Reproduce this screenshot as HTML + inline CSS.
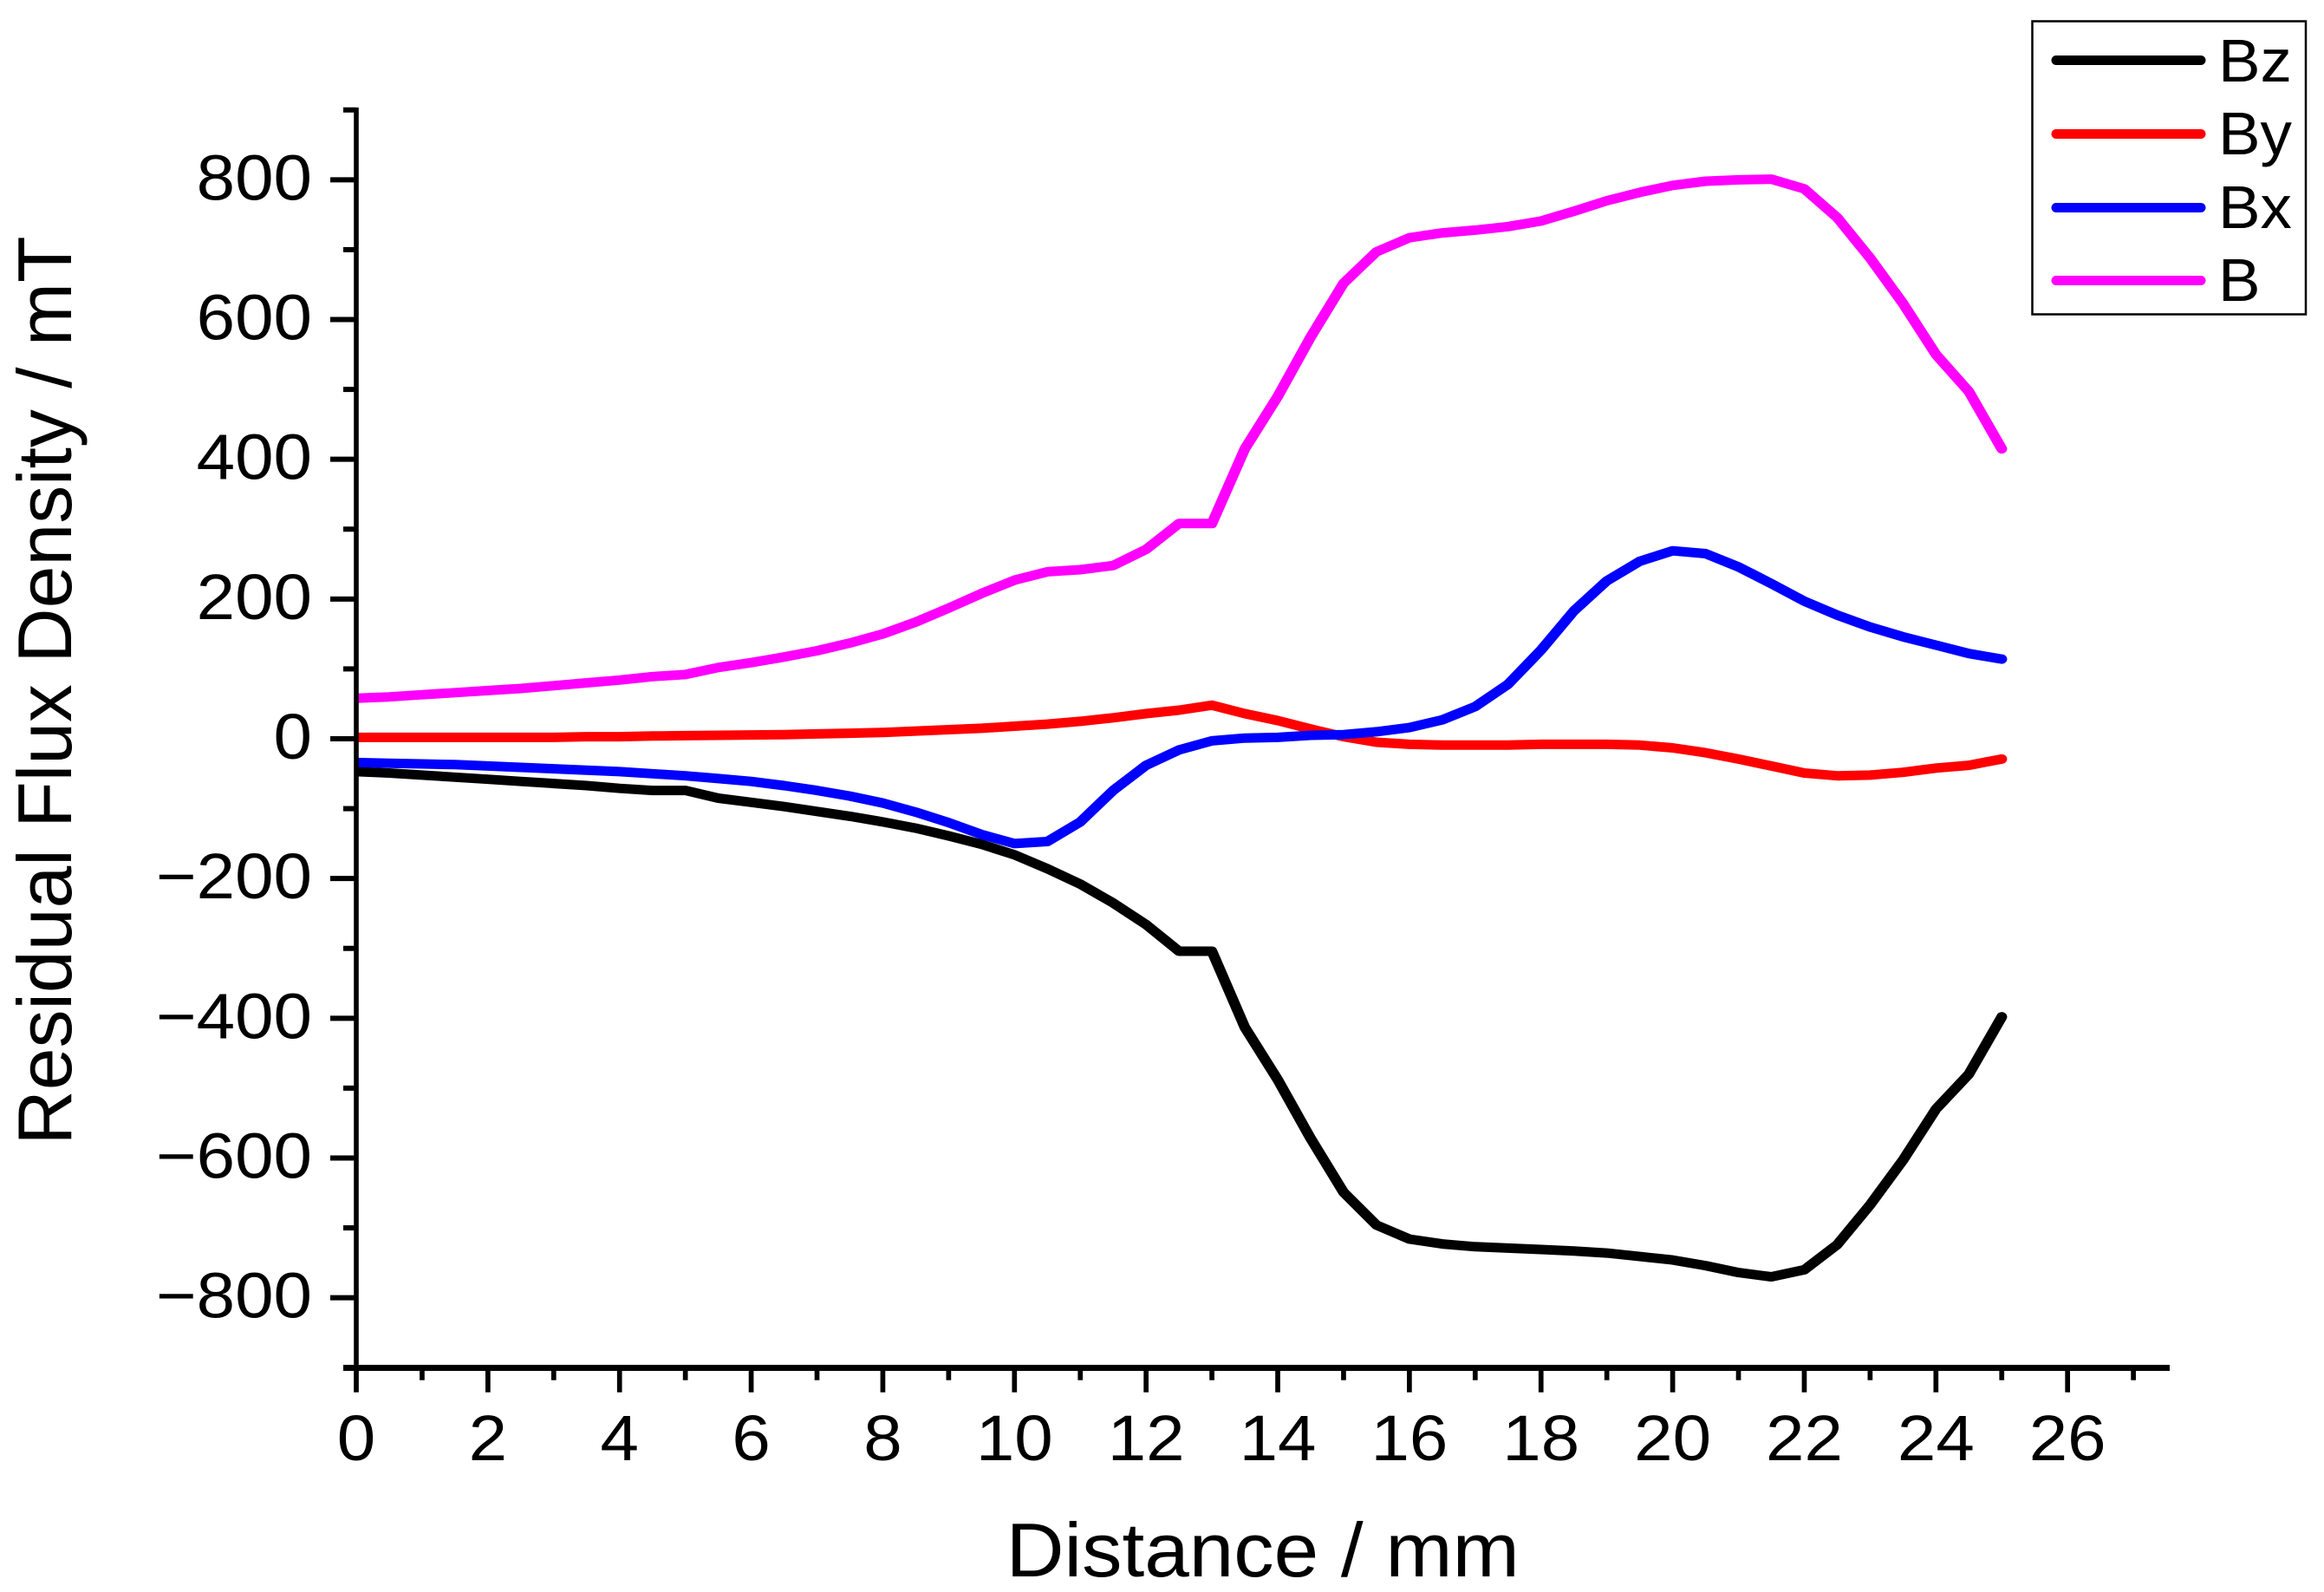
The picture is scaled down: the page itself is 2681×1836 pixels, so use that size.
<!DOCTYPE html>
<html lang="en">
<head>
<meta charset="utf-8">
<title>Residual Flux Density vs Distance</title>
<style>
html,body{margin:0;padding:0;background:#fff;}
svg{display:block;}
text{font-family:"Liberation Sans",Arial,sans-serif;fill:#000;}
</style>
</head>
<body>
<svg id="chart" xmlns="http://www.w3.org/2000/svg" width="2681" height="1836" viewBox="0 0 2681 1836">
<rect x="0" y="0" width="2681" height="1836" fill="#fff"/>
<defs><clipPath id="plot-clip"><rect x="411" y="100" width="2100" height="1480"/></clipPath></defs>
<g id="series" clip-path="url(#plot-clip)"></g>
<g id="axes"></g>
<text transform="translate(1456.7,1818) scale(1.053,1)" font-size="88" text-anchor="middle">Distance / mm</text>
<text transform="translate(82,796.5) rotate(-90) scale(0.997,1)" font-size="88" text-anchor="middle">Residual Flux Density / mT</text>
<g>
<rect x="2344.5" y="24.5" width="315.5" height="338" fill="#fff" stroke="#000" stroke-width="2.5"/>
<line x1="2372" y1="69.5" x2="2539" y2="69.5" stroke="#000" stroke-width="11" stroke-linecap="round"/>
<line x1="2372" y1="154.5" x2="2539" y2="154.5" stroke="#f00" stroke-width="11" stroke-linecap="round"/>
<line x1="2372" y1="239.5" x2="2539" y2="239.5" stroke="#00f" stroke-width="11" stroke-linecap="round"/>
<line x1="2372" y1="323.5" x2="2539" y2="323.5" stroke="#f0f" stroke-width="11" stroke-linecap="round"/>
<text transform="translate(2559,94) scale(1.04,1)" font-size="70">Bz</text>
<text transform="translate(2559,178) scale(1.04,1)" font-size="70">By</text>
<text transform="translate(2559,263) scale(1.04,1)" font-size="70">Bx</text>
<text transform="translate(2559,347) scale(1.04,1)" font-size="70">B</text>
</g>
</svg>
<script>
const distance = [0,0.5,1,1.5,2,2.5,3,3.5,4,4.5,5,5.5,6,6.5,7,7.5,8,8.5,9,9.5,10,10.5,11,11.5,12,12.5,13,13.5,14,14.5,15,15.5,16,16.5,17,17.5,18,18.5,19,19.5,20,20.5,21,21.5,22,22.5,23,23.5,24,24.5,25];
const bzValues = [-47,-49,-52,-55,-58,-61,-64,-67,-71,-74,-74,-85,-91,-97,-104,-111,-119,-128,-139,-151,-166,-186,-208,-235,-266,-304,-304,-413,-488,-572,-649,-696,-716,-723,-727,-729,-731,-733,-736,-741,-746,-754,-764,-770,-760,-724,-667,-603,-530,-480,-398];
const byValues = [2,2,2,2,2,2,2,3,3,4,4.5,5,5.5,6,7,8,9,11,13,15,18,21,25,30,36,41,48,36,26,14,3,-5,-8,-9,-9,-9,-8,-8,-8,-9,-13,-20,-29,-39,-49,-53,-52,-48,-42,-38,-29];
const bxValues = [-34,-35,-36,-37,-39,-41,-43,-45,-47,-50,-53,-57,-61,-67,-74,-82,-92,-105,-120,-137,-150,-147,-119,-74,-38,-16,-3,1,2,5,6,10,16,27,46,78,127,183,226,254,269,265,246,222,197,177,160,146,134,122,114];
const bValues = [58,60,63,66,69,72,76,80,84,89,92,102,109,117,126,137,150,167,187,208,227,239,242,248,271,308,308,415,490,575,652,697,717,724,728,733,741,755,770,782,792,798,800,801,787,746,688,623,550,497,415];
const xTickValues = [0,2,4,6,8,10,12,14,16,18,20,22,24,26];
const xMinorValues = [1,3,5,7,9,11,13,15,17,19,21,23,25,27];
const yTickValues = [800,600,400,200,0,-200,-400,-600,-800];
const yMinorValues = [900,700,500,300,100,-100,-300,-500,-700,-900];

const NS = 'http://www.w3.org/2000/svg';
const strokeStretch = 1.12;
const xScale = v => 411 + v * 75.93;
const yScale = v => 852 - v * 0.8058;
const seriesGroup = document.getElementById('series');
const axesGroup = document.getElementById('axes');

function addLine(x1, y1, x2, y2, w, name) {
  const el = document.createElementNS(NS, 'line');
  el.setAttribute('x1', x1);
  el.setAttribute('y1', y1);
  el.setAttribute('x2', x2);
  el.setAttribute('y2', y2);
  el.setAttribute('stroke', '#000');
  el.setAttribute('stroke-width', w);
  
  
  axesGroup.appendChild(el);
}

function addLabel(x, y, str, anchor, name) {
  const el = document.createElementNS(NS, 'text');
  el.setAttribute('transform', 'translate(' + x + ',' + y + ') scale(1.08,1)');
  el.setAttribute('font-size', '74');
  el.setAttribute('text-anchor', anchor);
  el.textContent = str;
  
  
  axesGroup.appendChild(el);
}

function addSeries(values, color, name) {
  const el = document.createElementNS(NS, 'polyline');
  el.setAttribute('transform', 'scale(' + strokeStretch + ',1)');
  el.setAttribute('points', values.map((v, i) => (xScale(distance[i]) / strokeStretch).toFixed(2) + ',' + yScale(v).toFixed(1)).join(' '));
  el.setAttribute('fill', 'none');
  el.setAttribute('stroke', color);
  el.setAttribute('stroke-width', '11');
  el.setAttribute('stroke-linejoin', 'round');
  el.setAttribute('stroke-linecap', 'round');
  
  
  seriesGroup.appendChild(el);
}

addSeries(bzValues, '#000', 'series-bz');
addSeries(byValues, '#f00', 'series-by');
addSeries(bxValues, '#00f', 'series-bx');
addSeries(bValues, '#f0f', 'series-b');

addLine(411, 124, 411, 1577, 5.6, 'y-axis-line');
addLine(396, 1577.5, 2503, 1577.5, 7, 'x-axis-line');

yTickValues.forEach(v => {
  addLine(381, yScale(v), 411, yScale(v), 6, 'y-major-tick');
  addLabel(360, yScale(v) + 23, String(v).replace('-', '\u2212'), 'end', 'y-tick-label');
});
yMinorValues.forEach(v => {
  addLine(396, yScale(v), 411, yScale(v), 6, 'y-minor-tick');
});
xTickValues.forEach(v => {
  addLine(xScale(v), 1577, xScale(v), 1605.7, 5.7, 'x-major-tick');
  addLabel(xScale(v), 1684, String(v), 'middle', 'x-tick-label');
});
xMinorValues.forEach(v => {
  addLine(xScale(v), 1577, xScale(v), 1591.7, 5.7, 'x-minor-tick');
});
</script>
</body>
</html>
